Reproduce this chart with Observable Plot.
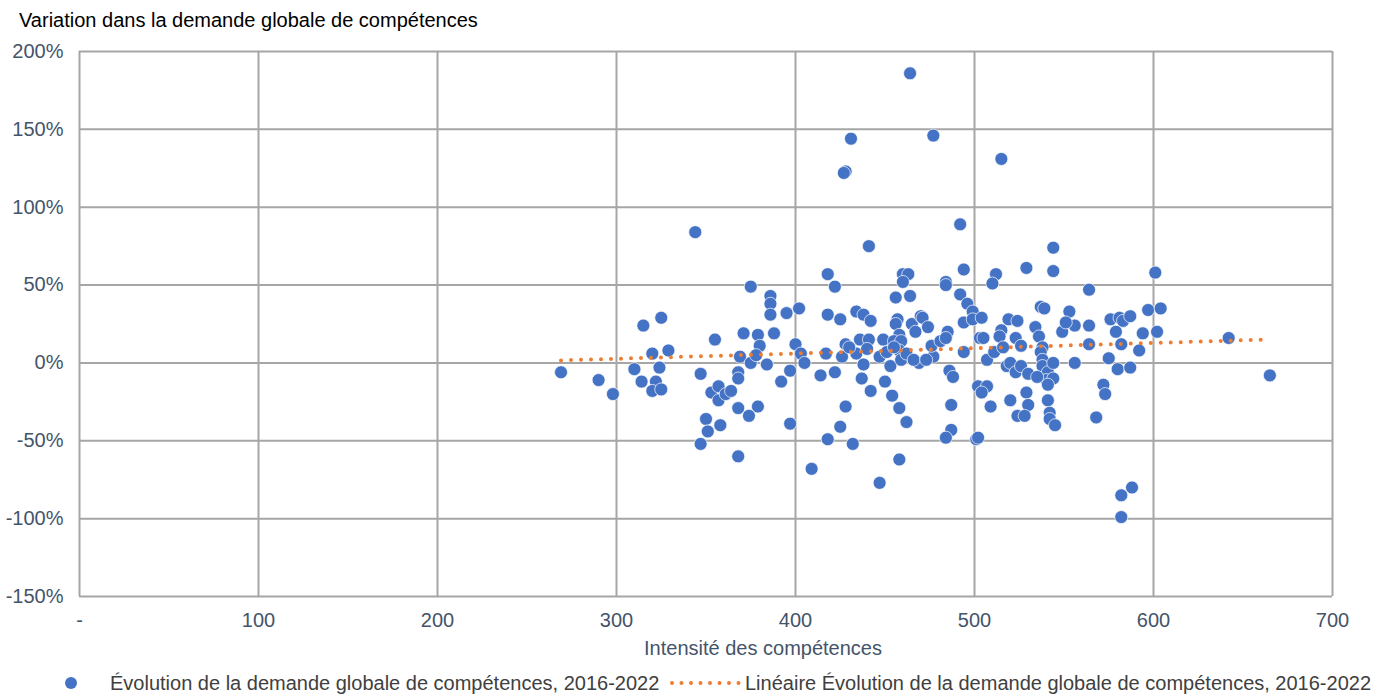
<!DOCTYPE html>
<html><head><meta charset="utf-8">
<script src="https://cdn.jsdelivr.net/npm/d3@7"></script>
<script src="https://cdn.jsdelivr.net/npm/@observablehq/plot@0.6"></script>
<style>
body{margin:0;background:#fff;font-family:"Liberation Sans",Arial,sans-serif;}
#title{height:40px;box-sizing:border-box;padding:9px 0 0 19px;font-size:20px;color:#000;line-height:22px;}
#legend{position:relative;height:26px;font-size:20px;color:#404040;}
#legend .item{position:absolute;top:4px;line-height:22px;white-space:nowrap;}
#legend svg{position:absolute;}
</style></head><body>
<div id="title">Variation dans la demande globale de compétences</div>
<div id="chart"></div>
<div id="legend"></div>
<script>
const title = "Variation dans la demande globale de compétences";
const xLabel = "Intensité des compétences";
const seriesName = "Évolution de la demande globale de compétences, 2016-2022";
const trendName = "Linéaire Évolution de la demande globale de compétences, 2016-2022";

const intensity = [269,290,298,310,314,315,320,322,320,325,324,325,329,344,347,355,353,357,357,361,364,350,351,358,347,368,368,368,369,368,374,379,375,371,379,380,375,378,384,386,386,386,395,388,392,397,397,400,402,403,405,414,418,422,418,425,417,422,426,428,428,425,418,432,409,441,434,438,442,436,441,434,438,437,442,447,449,453,450,454,458,462,458,447,456,464,460,463,460,457,456,458,455,459,458,459,462,465,467,470,471,474,469,466,477,476,481,485,484,484,484,492,494,492,496,499,494,499,494,486,488,487,487,484,501,502,503,512,510,529,544,544,601,564,504,519,524,515,514,523,505,537,539,534,536,538,537,553,556,549,551,564,564,556,576,581,583,587,597,604,579,582,594,592,602,575,580,587,572,573,568,582,588,582,538,538,541,544,540,544,541,541,542,542,545,526,518,520,523,526,530,535,529,520,530,524,528,507,511,516,507,504,509,502,642,665,464,477,431,428,427,515,430,440,451,455,473];
const variation = [-6,-11,-20,-4,-12,24,6,-12,-18,-17,-3,29,8,84,-7,15,-19,-15,-24,-20,-18,-36,-44,-40,-52,-60,-6,-10,4,-29,-34,-28,49,19,18,11,0,5,-1,43,38,31,32,19,-12,-5,-39,12,35,6,0,-8,57,49,31,28,6,-6,4,12,-28,-41,-49,-52,-68,75,33,31,27,15,15,6,-1,-10,-18,4,15,-2,-12,-21,-29,-38,-62,-77,42,43,57,57,52,28,25,18,14,14,8,2,6,25,20,30,29,23,0,2,4,11,14,20,16,52,50,89,60,44,38,33,26,28,7,-5,-9,-27,-43,-48,-49,-15,16,57,51,61,74,59,58,47,29,28,27,21,17,16,16,36,35,23,17,10,7,33,24,20,26,24,12,0,28,29,27,30,34,35,20,12,19,8,20,3,-4,-3,-14,-20,-35,-85,-80,-99,2,-2,-6,0,-11,-10,-14,-24,-32,-36,-40,11,-2,0,-6,-2,-7,-9,-19,-24,-27,-34,-34,2,7,10,-15,-19,-28,-48,16,-8,186,146,144,123,122,131,10,9,7,10,2];

const xTicks = [0,100,200,300,400,500,600,700];
const yTicks = [-150,-100,-50,0,50,100,150,200];

const points = intensity.map((x, i) => ({x, y: variation[i]}));
const font = '"Liberation Sans", Arial, sans-serif';
const axisColor = "#44546a";
const gridColor = "#a6a6a6";
const blue = "#4472c4";
const orange = "#ed7d31";

const chart = Plot.plot({
  width: 1374,
  height: 628,
  marginTop: 11,
  marginBottom: 72,
  marginLeft: 79,
  marginRight: 42,
  style: {fontFamily: font, fontSize: "20px", color: axisColor, background: "white"},
  x: {domain: [0, 700]},
  y: {domain: [-150, 200]},
  marks: [
    Plot.gridX(xTicks, {stroke: gridColor, strokeOpacity: 1, strokeWidth: 2}),
    Plot.gridY(yTicks, {stroke: gridColor, strokeOpacity: 1, strokeWidth: 2}),
    Plot.axisX(xTicks, {tickSize: 0, tickPadding: 16, tickFormat: d => d === 0 ? "-" : String(d), label: null, fill: axisColor, fontSize: 20}),
    Plot.axisY(yTicks, {tickSize: 0, tickPadding: 16, tickFormat: d => d + "%", label: null, fill: axisColor, fontSize: 20}),
    Plot.dot(points, {x: "x", y: "y", r: 6.5, fill: blue, stroke: "white", strokeWidth: 0.7}),
    Plot.linearRegressionY(points, {x: "x", y: "y", ci: 0, stroke: orange, strokeWidth: 4, strokeDasharray: "0 10", strokeLinecap: "round"}),
    Plot.text([xLabel], {frameAnchor: "bottom", dx: 57, dy: 52, fill: axisColor, fontSize: 20, lineAnchor: "middle"})
  ]
});
document.getElementById("chart").appendChild(chart);

const legend = document.getElementById("legend");
legend.innerHTML = `
  <svg width="16" height="16" style="left:63px;top:7px"><circle cx="8" cy="8" r="6" fill="${blue}"/></svg>
  <div class="item" style="left:110px">${seriesName}</div>
  <svg width="76" height="10" style="left:668px;top:10px"><line x1="4" y1="5" x2="72" y2="5" stroke="${orange}" stroke-width="4" stroke-linecap="round" stroke-dasharray="0 9.5"/></svg>
  <div class="item" style="left:745px">${trendName}</div>`;
</script>
</body></html>
